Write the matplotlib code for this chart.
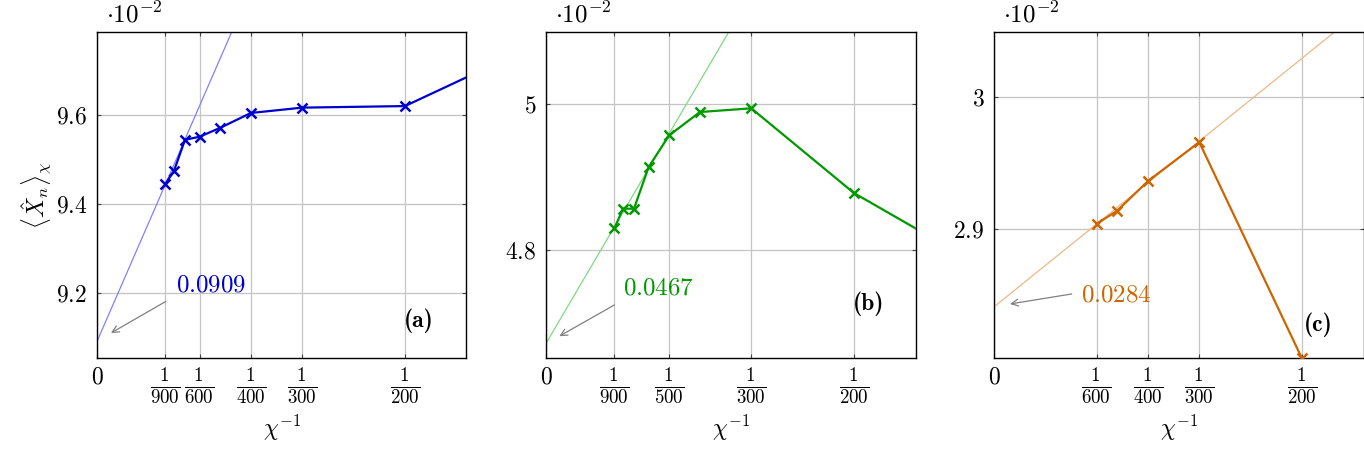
import matplotlib
matplotlib.use("Agg")
import matplotlib.pyplot as plt
import numpy as np

plt.rcParams['mathtext.fontset'] = 'cm'
plt.rcParams['font.family'] = 'serif'
plt.rcParams['font.serif'] = ['cmr10', 'DejaVu Serif']
plt.rcParams['axes.formatter.use_mathtext'] = True

# ---- data (values in units of 1e-2) ----
chi_a = [900, 800, 700, 600, 500, 400, 300, 200, 150]
val_a = [9.445, 9.474, 9.544, 9.551, 9.571, 9.6045, 9.6165, 9.620, 9.728]
fit_a = (9.09, 318.6)          # intercept, slope
label_a = "0.0909"

chi_b = [900, 800, 700, 600, 500, 400, 300, 200, 150]
val_b = [4.8294, 4.8564, 4.8564, 4.9137, 4.9573, 4.9894, 4.9945, 4.878, 4.797]
fit_b = (4.671, 144.4)
label_b = "0.0467"

chi_c = [600, 500, 400, 300, 200]
val_c = [2.904, 2.9139, 2.9364, 2.9659, 2.802]
fit_c = (2.841, 37.7)
label_c = "0.0284"

xticks_a = [900, 600, 400, 300, 200]
xticks_b = [900, 500, 300, 200]
xticks_c = [600, 400, 300, 200]
yticks_a = [9.2, 9.4, 9.6]
yticks_b = [4.8, 5.0]
yticks_c = [2.9, 3.0]
ytlabels_a = ["9.2", "9.4", "9.6"]
ytlabels_b = ["4.8", "5"]
ytlabels_c = ["2.9", "3"]

panels = [
    dict(chi=chi_a, val=val_a, fit=fit_a, lab=label_a, xt=xticks_a, yt=yticks_a, ytl=ytlabels_a,
         ylim=(9.052, 9.7875), color=(0.0, 0.0, 0.8), fitcolor=(0.5, 0.5, 1.0),
         tail=(0.001117, 9.18), head=(0.000227, 9.109), tpos=(0.00128, 9.216),
         tag="(a)", tagpos=(0.00523, 9.137), left=97),
    dict(chi=chi_b, val=val_b, fit=fit_b, lab=label_b, xt=xticks_b, yt=yticks_b, ytl=ytlabels_b,
         ylim=(4.6506, 5.0999), color=(0.0, 0.6, 0.0), fitcolor=(0.5, 0.85, 0.5),
         tail=(0.001111, 4.724), head=(0.000217, 4.681), tpos=(0.001258, 4.747),
         tag="(b)", tagpos=(0.005244, 4.7263), left=546),
    dict(chi=chi_c, val=val_c, fit=fit_c, lab=label_c, xt=xticks_c, yt=yticks_c, ytl=ytlabels_c,
         ylim=(2.802, 3.0497), color=(0.8, 0.4, 0.0), fitcolor=(0.93, 0.72, 0.52),
         tail=(0.001262, 2.8508), head=(0.00026, 2.8432), tpos=(0.001414, 2.850),
         tag="(c)", tagpos=(0.00526, 2.8275), left=994),
]

W, H = 1364, 450
fig = plt.figure(figsize=(W / 100, H / 100), dpi=100)

for i, p in enumerate(panels):
    ax = fig.add_axes([p['left'] / W, 1 - 358.3 / H, 369.5 / W, (358.3 - 31.7) / H])
    x = [1.0 / c for c in p['chi']]
    xs = np.array([0.0, 0.0065])
    ax.plot(xs, p['fit'][0] + p['fit'][1] * xs, color=p['fitcolor'], lw=0.9, zorder=2)
    ax.plot(x, p['val'], color=p['color'], lw=1.6, marker='x', ms=6.5, mew=1.8, zorder=3,
            clip_on=True)
    ax.set_xlim(0, 0.006)
    ax.set_ylim(*p['ylim'])
    xt = [0.0] + [1.0 / c for c in p['xt']]
    ax.set_xticks(xt)
    ax.set_xticklabels(["$0$"] + [r"$\frac{1}{%d}$" % c for c in p['xt']], fontsize=19.5)
    ax.get_xticklabels()[0].set_fontsize(17)
    ax.set_yticks(p['yt'])
    ax.set_yticklabels(["$%s$" % s for s in p['ytl']], fontsize=17)
    ax.grid(True, color='#c4c4c4', lw=0.9)
    ax.set_axisbelow(True)
    ax.tick_params(direction='in', length=3, width=0.8, top=True, right=True, pad=7,
                   color='#444444')
    ax.tick_params(axis='x', pad=6)
    for s in ax.spines.values():
        s.set_linewidth(1.0)
    ax.set_xlabel(r"$\chi^{-1}$", fontsize=17, labelpad=5)
    ax.annotate('', xy=p['head'], xytext=p['tail'],
                arrowprops=dict(arrowstyle='->', color='#808080', lw=0.9,
                                shrinkA=0, shrinkB=0, mutation_scale=12))
    ax.text(p['tpos'][0], p['tpos'][1], "$%s$" % p['lab'], color=p['color'], fontsize=18,
            ha='left', va='center')
    ax.text(p['tagpos'][0], p['tagpos'][1], p['tag'], fontsize=17, family='cmb10',
            ha='center', va='center')
    ax.text(0.025, 1.012, r"$\cdot 10^{-2}$", transform=ax.transAxes, fontsize=18,
            ha='left', va='bottom')
    if i == 0:
        ax.set_ylabel(r"$\langle \hat{X}_n \rangle_\chi$", fontsize=17, labelpad=1)

fig.savefig("out.png", dpi=100)
